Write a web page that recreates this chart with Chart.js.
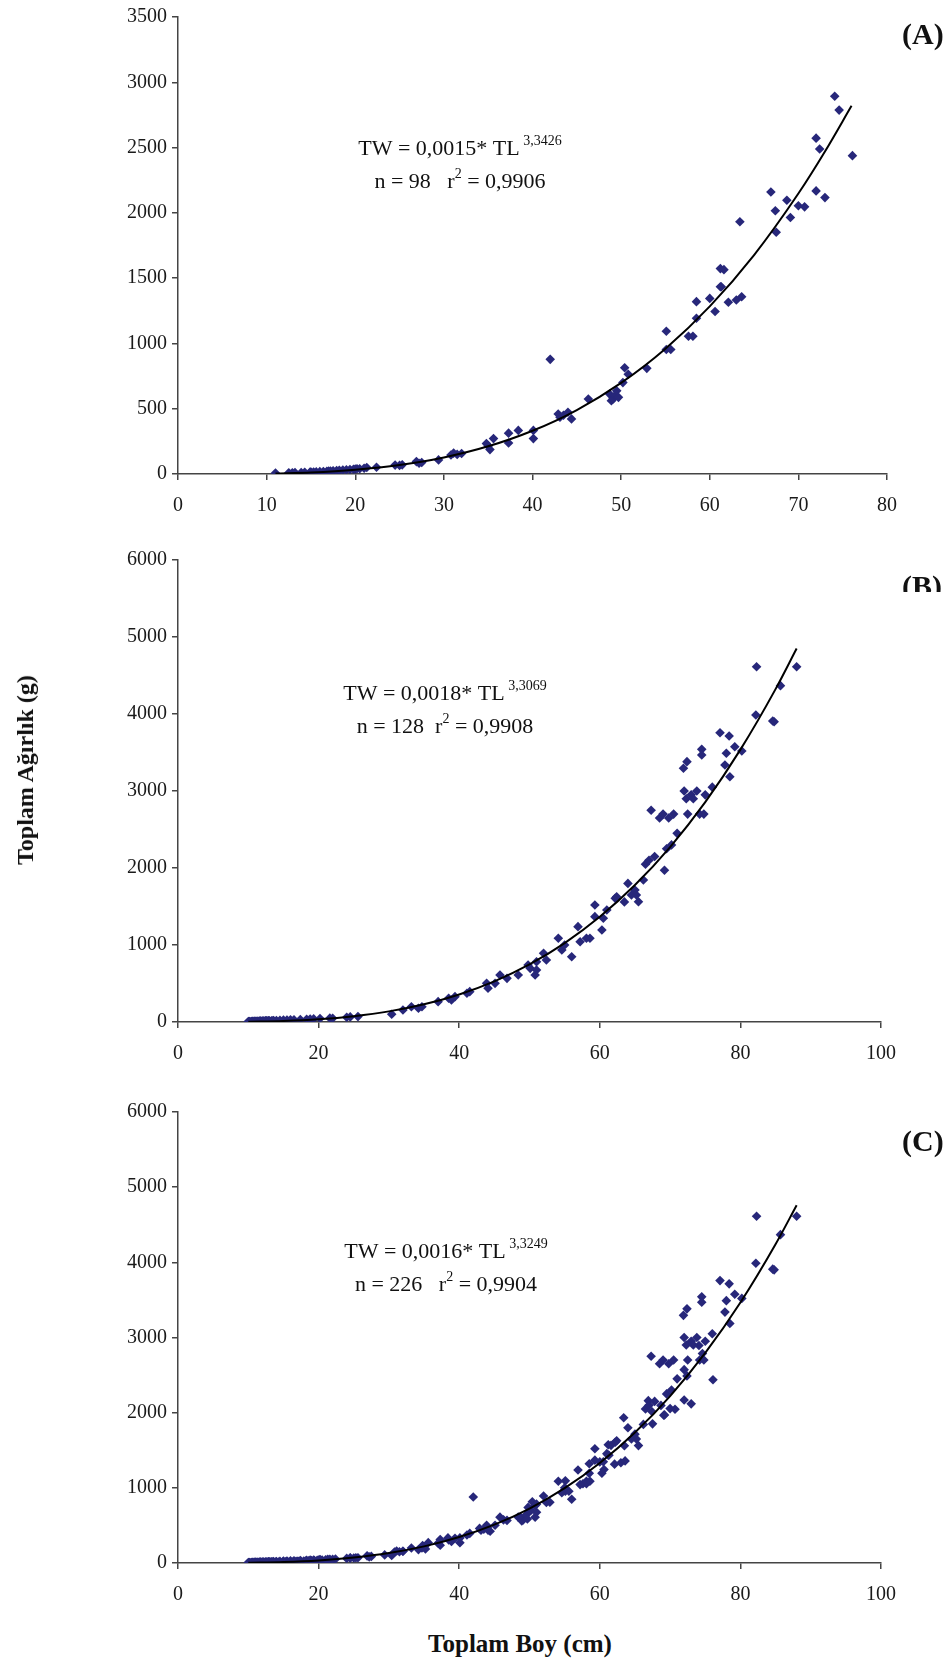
<!DOCTYPE html>
<html>
<head>
<meta charset="utf-8">
<script src="https://cdn.jsdelivr.net/npm/chart.js@4/dist/chart.umd.min.js"></script>
<style>
  body { margin: 0; background: #fff; }
  #page { position: relative; width: 950px; height: 1663px; background: #fff; font-family: 'Liberation Serif', 'Times New Roman', serif; }
  .panel { position: absolute; left: 0; width: 950px; }
  .ytitle { position: absolute; left: 25px; top: 770px; transform: translate(-50%, -50%) rotate(-90deg); white-space: nowrap; font-weight: bold; font-size: 24px; line-height: 1; color: #111; }
  .xtitle { position: absolute; left: 520px; top: 1631px; transform: translateX(-50%); white-space: nowrap; font-weight: bold; font-size: 25px; line-height: 1; color: #111; }
</style>
</head>
<body>
<div id="page">
  <div class="panel" style="top:0;height:520px"><canvas id="chart-a"></canvas></div>
  <div class="panel" style="top:520px;height:548px"><canvas id="chart-b"></canvas></div>
  <div class="panel" style="top:1080px;height:529px"><canvas id="chart-c"></canvas></div>
  <div class="ytitle">Toplam Ağırlık (g)</div>
  <div class="xtitle">Toplam Boy (cm)</div>
</div>
<script>
// --- panel A (n = 98) ---
const lengthsA = [11.0, 12.5, 12.9, 13.2, 13.9, 14.3, 14.9, 15.0, 15.3, 15.6, 16.0, 16.4, 16.8, 17.0, 17.2, 17.5, 17.9, 18.2, 18.6, 19.0,
  19.4, 19.8, 20.0, 20.2, 20.5, 21.0, 21.3, 22.4, 24.5, 25.0, 25.3, 26.9, 27.2, 27.5, 29.4, 30.8, 31.1, 31.5, 32.0, 34.8,
  35.0, 35.2, 35.6, 37.3, 37.3, 38.4, 40.1, 40.1, 42.0, 42.9, 43.1, 43.5, 44.0, 44.4, 46.3, 48.7, 48.9, 49.1, 49.3, 49.5,
  49.7, 50.2, 50.4, 50.8, 52.9, 55.1, 55.1, 55.6, 57.6, 58.1, 58.5, 58.5, 60.0, 60.6, 61.2, 61.3, 61.2, 61.6, 62.1, 63.0,
  63.6, 63.4, 66.9, 67.4, 67.5, 68.7, 69.1, 70.0, 70.7, 72.0, 72.0, 72.4, 73.0, 74.1, 74.6, 76.1];
const weightsA = [8, 9, 10, 11, 12, 13, 14, 15, 15, 16, 18, 19, 21, 22, 23, 24, 26, 28, 30, 32,
  34, 36, 38, 40, 40, 44, 50, 52, 68, 66, 70, 95, 82, 88, 108, 145, 160, 150, 157, 233,
  215, 187, 271, 313, 237, 334, 334, 271, 878, 460, 435, 450, 473, 422, 574, 612, 561, 574, 600, 637,
  587, 700, 814, 764, 809, 1093, 954, 954, 1055, 1055, 1320, 1193, 1345, 1244, 1434, 1434, 1573, 1565, 1315, 1333,
  1358, 1932, 2160, 2016, 1851, 2097, 1965, 2054, 2046, 2168, 2572, 2489, 2117, 2893, 2787, 2438];
const fitLengthsA = [11, 15, 20, 25, 30, 35, 40, 45, 50, 55, 60, 65, 70, 73, 76];
const fitWeightsA = [4, 12, 33, 69, 127, 212, 331, 490, 698, 960, 1284, 1677, 2148, 2470, 2820];

// --- panel B (n = 128) ---
const lengthsB = [10.0, 10.2, 10.4, 10.6, 10.8, 11.0, 11.2, 11.4, 11.6, 11.8, 12.0, 12.2, 12.4, 12.6, 12.8, 13.0, 13.3, 13.6, 14.0, 15.0,
  15.5, 16.0, 17.4, 18.3, 19.3, 20.2, 21.6, 24.0, 24.5, 25.6, 30.4, 32.0, 33.2, 34.2, 34.7, 37.0, 38.5, 38.9, 39.4, 41.1,
  41.5, 43.9, 44.1, 45.1, 45.8, 46.8, 48.4, 49.8, 50.1, 50.8, 51.0, 51.0, 52.0, 52.4, 54.1, 54.6, 55.0, 56.0, 56.9, 57.2,
  58.1, 58.6, 59.3, 59.3, 60.3, 60.5, 61.0, 62.2, 62.4, 63.5, 64.0, 64.5, 65.0, 65.2, 65.5, 66.2, 66.5, 67.0, 67.3, 67.8,
  68.5, 69.0, 69.2, 69.5, 69.8, 70.2, 70.5, 71.0, 71.9, 72.0, 72.3, 72.4, 72.5, 73.0, 73.3, 73.8, 74.2, 74.5, 74.5, 74.8,
  75.0, 76.0, 77.1, 77.8, 78.0, 78.4, 78.5, 79.2, 80.2, 82.2, 82.3, 84.6, 84.8, 85.7, 88.0, 10.1, 10.5, 10.9, 11.3, 11.7,
  12.1, 12.5, 12.9, 13.5, 14.5, 16.5, 18.8, 22.0];
const weightsB = [5, 6, 7, 8, 8, 9, 10, 10, 11, 12, 12, 13, 14, 14, 15, 16, 17, 18, 20, 25,
  26, 28, 32, 36, 40, 45, 50, 61, 66, 70, 100, 156, 199, 178, 199, 264, 308, 286, 329, 373,
  394, 502, 438, 502, 610, 567, 610, 740, 697, 610, 675, 783, 892, 805, 1087, 935, 1000, 848, 1238, 1043,
  1087, 1087, 1519, 1368, 1195, 1347, 1455, 1606, 1627, 1560, 1800, 1650, 1714, 1649, 1562, 1844, 2050, 2100, 2750, 2150,
  2650, 2700, 1970, 2250, 2650, 2300, 2700, 2450, 3295, 3000, 2900, 3381, 2700, 2950, 2900, 3000, 2700, 3541, 3468, 2700,
  2950, 3050, 3757, 3338, 3490, 3714, 3186, 3575, 3520, 3987, 4614, 3909, 3900, 4368, 4614, 5, 7, 8, 10, 11,
  12, 14, 15, 17, 22, 30, 38, 48];
const fitLengthsB = [10, 15, 20, 25, 30, 35, 40, 45, 50, 55, 60, 65, 70, 75, 80, 85, 88];
const fitWeightsB = [4, 14, 36, 76, 138, 230, 358, 528, 748, 1025, 1366, 1779, 2272, 2856, 3537, 4323, 4850];

// --- panel C (n = 226): all fish, A and B together ---
const lengthsC = lengthsA.concat(lengthsB);
const weightsC = weightsA.concat(weightsB);
const fitLengthsC = [10, 15, 20, 25, 30, 35, 40, 45, 50, 55, 60, 65, 70, 75, 80, 85, 88];
const fitWeightsC = [3, 13, 34, 72, 132, 221, 345, 510, 724, 995, 1330, 1735, 2220, 2795, 3465, 4240, 4760];

const ticksA = { xMax: 80, xStep: 10, yMax: 3500, yStep: 500 };
const ticksBC = { xMax: 100, xStep: 20, yMax: 6000, yStep: 1000 };

const MARKER = '#27277a';
const SERIF = "'Liberation Serif', 'Times New Roman', serif";

function toPoints(xs, ys) {
    return xs.map((x, i) => ({ x: x, y: ys[i] }));
}

/** draws a line of text with superscripts; parts = [[text, isSup], ...], centred on cx */
function drawRich(ctx, parts, cx, baseline) {
    const widths = parts.map(([t, sup]) => {
        ctx.font = sup ? `14px ${SERIF}` : `22px ${SERIF}`;
        return ctx.measureText(t).width;
    });
    let x = cx - widths.reduce((a, b) => a + b, 0) / 2;
    parts.forEach(([t, sup], i) => {
        ctx.font = sup ? `14px ${SERIF}` : `22px ${SERIF}`;
        ctx.fillText(t, x, sup ? baseline - 10 : baseline);
        x += widths[i];
    });
}

function labelPlugin(label, labelY, clipY, eq) {
    return {
        id: 'labels',
        afterDraw(chart) {
            const ctx = chart.ctx;
            ctx.save();
            ctx.fillStyle = '#111';
            ctx.textBaseline = 'alphabetic';
            ctx.textAlign = 'left';
            drawRich(ctx, eq.line1, eq.cx, eq.y1);
            drawRich(ctx, eq.line2, eq.cx, eq.y2);
            if (clipY) {
                ctx.beginPath();
                ctx.rect(880, 0, 70, clipY);
                ctx.clip();
            }
            ctx.font = `bold 30px ${SERIF}`;
            ctx.fillText(label, 902, labelY);
            ctx.restore();
        }
    };
}

function makeChart(id, pts, fit, t, padding, plugin) {
    const tickFont = { family: SERIF, size: 20 };
    const axisGrid = { drawOnChartArea: false, drawTicks: true, tickLength: 6, color: '#444', lineWidth: 1.5 };
    return new Chart(document.getElementById(id).getContext('2d'), {
        type: 'scatter',
        data: {
            datasets: [{
                data: fit,
                showLine: true,
                borderColor: '#000',
                borderWidth: 2,
                pointRadius: 0,
                cubicInterpolationMode: 'monotone',
                order: 0
            }, {
                data: pts,
                pointStyle: 'rectRot',
                pointRadius: 4.8,
                backgroundColor: MARKER,
                borderColor: MARKER,
                borderWidth: 0,
                order: 1
            }]
        },
        options: {
            responsive: true,
            maintainAspectRatio: false,
            animation: false,
            layout: { padding: padding },
            plugins: { legend: { display: false }, tooltip: { enabled: false } },
            scales: {
                x: {
                    type: 'linear', min: 0, max: t.xMax,
                    ticks: { stepSize: t.xStep, color: '#1a1a1a', font: tickFont, padding: 14, maxRotation: 0, callback: v => String(v) },
                    grid: axisGrid,
                    border: { color: '#444', width: 1.5 },
                    afterFit: s => { s.height = 46; }
                },
                y: {
                    type: 'linear', min: 0, max: t.yMax,
                    ticks: { stepSize: t.yStep, color: '#1a1a1a', font: tickFont, padding: 5, callback: v => String(v) },
                    grid: axisGrid,
                    border: { color: '#444', width: 1.5 },
                    afterFit: s => { s.width = 60; }
                }
            }
        },
        plugins: [plugin]
    });
}

makeChart('chart-a', toPoints(lengthsA, weightsA), toPoints(fitLengthsA, fitWeightsA), ticksA,
    { left: 118, right: 63, top: 13, bottom: 0 },
    labelPlugin('(A)', 44, null, {
        cx: 460, y1: 155, y2: 188,
        line1: [['TW = 0,0015* TL', false], [' 3,3426', true]],
        line2: [['n = 98   r', false], ['2', true], [' = 0,9906', false]]
    }));

makeChart('chart-b', toPoints(lengthsB, weightsB), toPoints(fitLengthsB, fitWeightsB), ticksBC,
    { left: 118, right: 69, top: 40, bottom: 0 },
    labelPlugin('(B)', 76, 72, {
        cx: 445, y1: 180, y2: 213,
        line1: [['TW = 0,0018* TL', false], [' 3,3069', true]],
        line2: [['n = 128  r', false], ['2', true], [' = 0,9908', false]]
    }));

makeChart('chart-c', toPoints(lengthsC, weightsC), toPoints(fitLengthsC, fitWeightsC), ticksBC,
    { left: 118, right: 69, top: 32, bottom: 0 },
    labelPlugin('(C)', 71, null, {
        cx: 446, y1: 178, y2: 211,
        line1: [['TW = 0,0016* TL', false], [' 3,3249', true]],
        line2: [['n = 226   r', false], ['2', true], [' = 0,9904', false]]
    }));
</script>
</body>
</html>
